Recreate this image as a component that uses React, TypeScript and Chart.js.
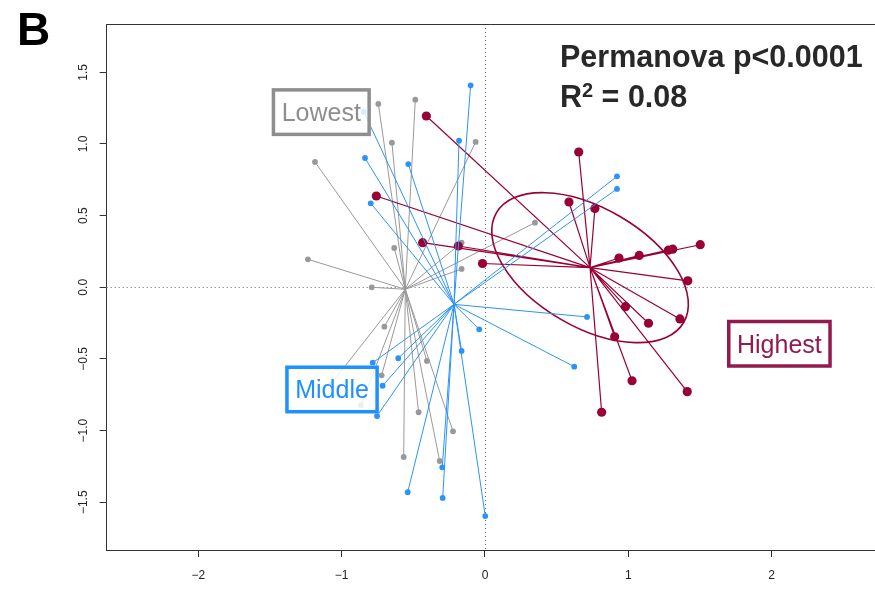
import { useEffect, useRef } from 'react';
import { Chart, registerables } from 'chart.js';

Chart.register(...registerables);

const FONT = "'Liberation Sans', Arial, Helvetica, sans-serif";

// Axis extents and ticks (PCoA axis 1 / axis 2)
const X_MIN = -2.639;
const X_MAX = 2.721;
const Y_MIN = -1.833;
const Y_MAX = 1.837;
const X_TICKS = [-2, -1, 0, 1, 2];
const X_TICK_LABELS = ['−2', '−1', '0', '1', '2'];
const Y_TICKS = [-1.5, -1, -0.5, 0, 0.5, 1, 1.5];
const Y_TICK_LABELS = ['−1.5', '−1.0', '−0.5', '0.0', '0.5', '1.0', '1.5'];

// Group names
const GROUPS = ['Lowest', 'Middle', 'Highest'];

// Lowest group samples and centroid
const LOWEST_X = [-0.744, -0.486, -0.649, -0.065, -1.186, -0.633, -0.163, -0.163, -1.235, -0.79,
  0.349, -0.702, -0.721, -0.405, -0.463, -0.223, -0.567, -0.316, -0.865, -1.074];
const LOWEST_Y = [1.279, 1.309, 1.009, 1.014, 0.874, 0.274, 0.311, 0.128, 0.195, 0.0,
  0.451, -0.275, -0.614, -0.514, -0.872, -1.005, -1.184, -1.212, -0.823, -0.675];
const LOWEST_CENTROID = [-0.556, -0.014];

// Middle group samples and centroid
const MIDDLE_X = [-0.1, -0.181, -0.837, -0.535, -0.797, -0.846, 0.921, 0.921, 0.712, 0.623,
  -0.04, -0.163, -0.783, -0.605, -0.714, -0.753, -0.298, -0.295, -0.539, 0.002];
const MIDDLE_Y = [1.409, 1.023, 0.902, 0.86, 0.586, 1.225, 0.774, 0.686, -0.207, -0.554,
  -0.293, -0.444, -0.526, -0.495, -0.687, -0.898, -1.256, -1.47, -1.43, -1.596];
const MIDDLE_CENTROID = [-0.216, -0.119];

// Highest group samples and centroid
const HIGHEST_X = [-0.409, -0.758, -0.435, -0.186, -0.017, 0.654, 0.586, 0.767, 0.935, 1.076,
  1.279, 1.31, 1.502, 1.415, 0.98, 1.141, 1.36, 0.905, 1.026, 1.411, 0.814];
const HIGHEST_Y = [1.195, 0.637, 0.311, 0.288, 0.166, 0.944, 0.595, 0.55, 0.204, 0.222,
  0.259, 0.266, 0.297, 0.045, -0.135, -0.251, -0.221, -0.345, -0.652, -0.728, -0.872];
const HIGHEST_CENTROID = [0.733, 0.137];

// Dispersion ellipse of the Highest group: semi-axes and tilt (degrees)
const HIGHEST_ELLIPSE_A = 0.757;
const HIGHEST_ELLIPSE_B = 0.414;
const HIGHEST_ELLIPSE_ANGLE = -30.35;

// Group label anchors (box centres, axis units)
const LABEL_X = [-1.142, -1.067, 2.054];
const LABEL_Y = [1.222, -0.713, -0.394];

const PERMANOVA_P = '0.0001';
const PERMANOVA_R2 = '0.08';

const GREY = '#999999';
const BLUE = '#2B93F8';
const RED = '#990033';
const LABEL_COLORS = ['#8E8E8E', '#1E90FF', '#921A4E'];

type Pt = { x: number; y: number };

// centroid -> sample segments, separated by gaps
function spokes(c: number[], xs: number[], ys: number[]): Pt[] {
  const out: Pt[] = [];
  xs.forEach((x, i) => {
    out.push({ x: c[0], y: c[1] }, { x, y: ys[i] }, { x: NaN, y: NaN });
  });
  return out;
}

function points(xs: number[], ys: number[]): Pt[] {
  return xs.map((x, i) => ({ x, y: ys[i] }));
}

const HIGHEST_SPOKES_INDEX = 2;

const guidesPlugin = {
  id: 'guides',
  beforeDatasetsDraw(chart: any) {
    const { ctx, chartArea, scales } = chart;
    const { left, right, top, bottom } = chartArea;
    ctx.save();
    ctx.strokeStyle = '#666';
    ctx.lineWidth = 1;
    ctx.setLineDash([1, 3]);
    const x0 = Math.round(scales.x.getPixelForValue(0)) + 0.5;
    ctx.beginPath();
    ctx.moveTo(x0, top);
    ctx.lineTo(x0, bottom);
    ctx.stroke();
    const y0 = Math.round(scales.y.getPixelForValue(0)) + 0.5;
    ctx.beginPath();
    ctx.moveTo(left, y0);
    ctx.lineTo(right, y0);
    ctx.stroke();
    ctx.restore();
  },
  afterDatasetDraw(chart: any, args: any) {
    if (args.index !== HIGHEST_SPOKES_INDEX) return;
    const { ctx, scales } = chart;
    const cx = scales.x.getPixelForValue(HIGHEST_CENTROID[0]);
    const cy = scales.y.getPixelForValue(HIGHEST_CENTROID[1]);
    const ux = scales.x.getPixelForValue(1) - scales.x.getPixelForValue(0);
    const uy = scales.y.getPixelForValue(0) - scales.y.getPixelForValue(1);
    ctx.save();
    ctx.translate(cx, cy);
    ctx.scale(ux, -uy);
    ctx.rotate((HIGHEST_ELLIPSE_ANGLE * Math.PI) / 180);
    ctx.beginPath();
    ctx.ellipse(0, 0, HIGHEST_ELLIPSE_A, HIGHEST_ELLIPSE_B, 0, 0, Math.PI * 2);
    ctx.restore();
    ctx.save();
    ctx.strokeStyle = RED;
    ctx.lineWidth = 1.6;
    ctx.stroke();
    ctx.restore();
  },
  afterDatasetsDraw(chart: any) {
    const { ctx, scales } = chart;
    ctx.save();
    ctx.font = `25px ${FONT}`;
    GROUPS.forEach((name, i) => {
      const cx = scales.x.getPixelForValue(LABEL_X[i]);
      const cy = scales.y.getPixelForValue(LABEL_Y[i]);
      const w = ctx.measureText(name).width + 20;
      const h = 48;
      const bx = cx - w / 2;
      const by = cy - h / 2;
      ctx.fillStyle = 'rgba(255,255,255,0.82)';
      ctx.fillRect(bx, by, w, h);
      ctx.strokeStyle = LABEL_COLORS[i];
      ctx.lineWidth = 3.5;
      ctx.strokeRect(bx + 1.75, by + 1.75, w - 3.5, h - 3.5);
      ctx.fillStyle = LABEL_COLORS[i];
      ctx.textAlign = 'center';
      ctx.textBaseline = 'alphabetic';
      ctx.fillText(name, cx, cy + 9);
    });
    ctx.restore();
  },
  afterDraw(chart: any) {
    const { ctx, chartArea, scales } = chart;
    const { left, right, top } = chartArea;
    ctx.save();
    // top edge of the plot frame
    ctx.strokeStyle = '#333';
    ctx.lineWidth = 1;
    ctx.beginPath();
    ctx.moveTo(left, Math.round(top) + 0.5);
    ctx.lineTo(right, Math.round(top) + 0.5);
    ctx.stroke();

    // rotated y tick labels
    ctx.fillStyle = '#222';
    ctx.font = `12px ${FONT}`;
    ctx.textAlign = 'center';
    ctx.textBaseline = 'alphabetic';
    Y_TICKS.forEach((v, i) => {
      const py = scales.y.getPixelForValue(v);
      ctx.save();
      ctx.translate(86.7, py);
      ctx.rotate(-Math.PI / 2);
      ctx.fillText(Y_TICK_LABELS[i], 0, 0);
      ctx.restore();
    });

    // panel letter
    ctx.fillStyle = '#000';
    ctx.textAlign = 'left';
    ctx.font = `bold 46px ${FONT}`;
    ctx.fillText('B', 17, 45);

    // PERMANOVA result
    ctx.fillStyle = '#282828';
    ctx.font = `bold 30.5px ${FONT}`;
    ctx.fillText(`Permanova p<${PERMANOVA_P}`, 560, 66.7);
    ctx.fillText('R', 560, 107.3);
    let x = 560 + ctx.measureText('R').width;
    ctx.font = `bold 20px ${FONT}`;
    ctx.fillText('2', x, 97);
    x += ctx.measureText('2').width;
    ctx.font = `bold 30.5px ${FONT}`;
    ctx.fillText(` = ${PERMANOVA_R2}`, x, 107.3);
    ctx.restore();
  },
};

export default function App() {
  const ref = useRef<HTMLCanvasElement>(null);

  useEffect(() => {
    if (!ref.current) return;
    const spokeStyle = (color: string, width: number, order: number) => ({
      showLine: true,
      spanGaps: false,
      borderColor: color,
      borderWidth: width,
      pointRadius: 0,
      pointHoverRadius: 0,
      fill: false,
      order,
    });
    const dotStyle = (color: string, radius: number, order: number) => ({
      showLine: false,
      backgroundColor: color,
      borderColor: color,
      borderWidth: 0,
      pointRadius: radius,
      pointHoverRadius: radius,
      order,
    });

    const chart = new Chart(ref.current, {
      type: 'scatter',
      data: {
        datasets: [
          { label: GROUPS[0], data: spokes(LOWEST_CENTROID, LOWEST_X, LOWEST_Y), ...spokeStyle(GREY, 1, 6) },
          { label: GROUPS[0], data: points(LOWEST_X, LOWEST_Y), ...dotStyle(GREY, 2.9, 5) },
          { label: GROUPS[2], data: spokes(HIGHEST_CENTROID, HIGHEST_X, HIGHEST_Y), ...spokeStyle(RED, 1.2, 4) },
          { label: GROUPS[2], data: points(HIGHEST_X, HIGHEST_Y), ...dotStyle(RED, 4.6, 3) },
          { label: GROUPS[1], data: spokes(MIDDLE_CENTROID, MIDDLE_X, MIDDLE_Y), ...spokeStyle(BLUE, 1, 2) },
          { label: GROUPS[1], data: points(MIDDLE_X, MIDDLE_Y), ...dotStyle(BLUE, 2.9, 1) },
        ] as any,
      },
      options: {
        responsive: false,
        animation: false,
        devicePixelRatio: 1,
        layout: { autoPadding: false, padding: { top: 24, left: 0, right: 0, bottom: 0 } },
        plugins: {
          legend: { display: false },
          tooltip: { enabled: false },
        },
        events: [],
        scales: {
          x: {
            type: 'linear',
            position: 'bottom',
            min: X_MIN,
            max: X_MAX,
            afterBuildTicks: (s: any) => {
              s.ticks = X_TICKS.map((value) => ({ value }));
            },
            afterFit: (s: any) => {
              s.height = 39;
            },
            ticks: {
              autoSkip: false,
              maxRotation: 0,
              padding: 11.5,
              color: '#222',
              font: { family: FONT, size: 12 },
              callback: (_v: any, i: number) => X_TICK_LABELS[i],
            },
            grid: {
              drawOnChartArea: false,
              drawTicks: true,
              tickLength: 7,
              color: '#333',
              lineWidth: 1,
            },
            border: { display: true, color: '#333', width: 1 },
          },
          y: {
            type: 'linear',
            min: Y_MIN,
            max: Y_MAX,
            afterBuildTicks: (s: any) => {
              s.ticks = Y_TICKS.map((value) => ({ value }));
            },
            afterFit: (s: any) => {
              s.width = 106.7;
            },
            ticks: { display: false },
            grid: {
              drawOnChartArea: false,
              drawTicks: true,
              tickLength: 7,
              color: '#333',
              lineWidth: 1,
            },
            border: { display: true, color: '#333', width: 1 },
          },
        },
      },
      plugins: [guidesPlugin],
    });
    return () => chart.destroy();
  }, []);

  return (
    <div style={{ position: 'fixed', left: 0, top: 0, width: 875, height: 589, background: '#fff' }}>
      <canvas ref={ref} width={875} height={589} style={{ display: 'block', width: 875, height: 589 }} />
    </div>
  );
}
